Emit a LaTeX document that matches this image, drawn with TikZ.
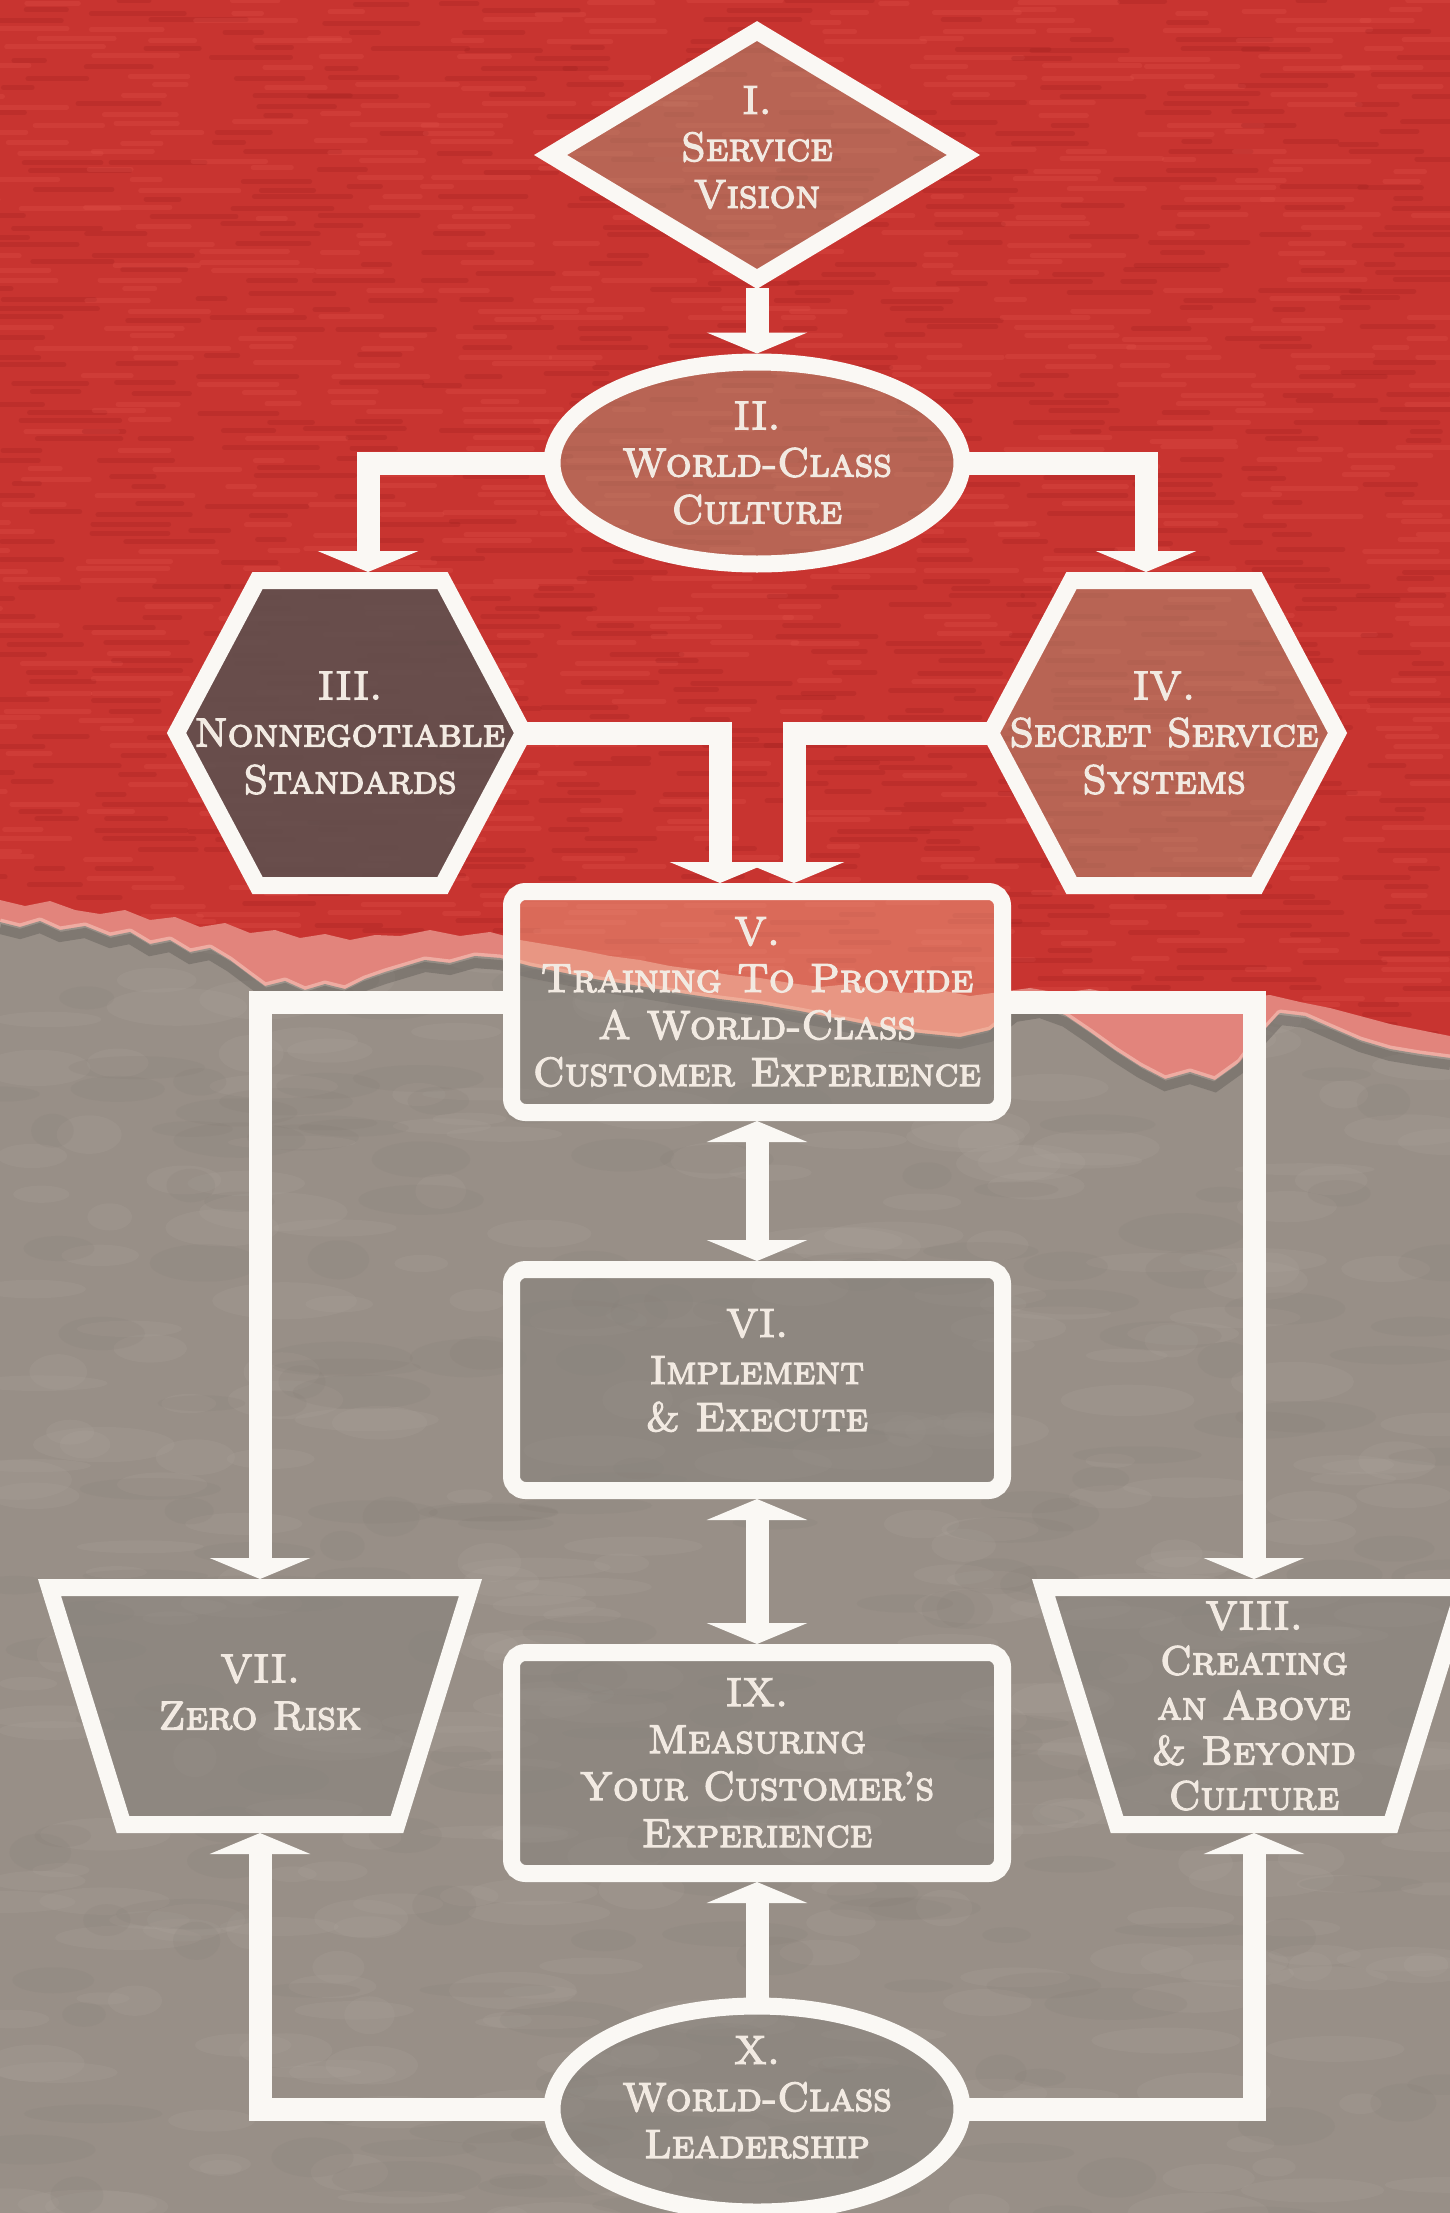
\documentclass[tikz,border=0pt]{standalone}
\usetikzlibrary{shapes.geometric,arrows.meta}

% paper colours
\definecolor{paperred}{RGB}{200,52,48}
\definecolor{streakdark}{RGB}{150,28,28}
\definecolor{streaklight}{RGB}{232,90,80}
\definecolor{tornpink}{RGB}{226,132,124}
\definecolor{fibre}{RGB}{242,182,172}
\definecolor{papergray}{RGB}{152,143,135}
\definecolor{mottlelight}{RGB}{178,170,162}
\definecolor{mottledark}{RGB}{128,120,113}
% diagram colours
\definecolor{linewhite}{RGB}{250,248,244}
\definecolor{labeltext}{RGB}{242,234,226}
\definecolor{tanfill}{RGB}{170,148,120}
\definecolor{darkfill}{RGB}{88,82,80}
\definecolor{grayfill}{RGB}{134,129,123}
\definecolor{salmonfill}{RGB}{240,172,140}

\pgfdeclarelayer{paper}
\pgfsetlayers{paper,main}

% heavier strokes for the label lettering
\newcommand\heavyon{\special{pdf:literal direct q 2 Tr 1.3 w}}
\newcommand\heavyoff{\special{pdf:literal direct Q}}

% lower edge of the red paper and of its torn fringe
\def\rededge{(0,900) -- (25,906) -- (50,901) -- (75,910) -- (100,914) -- (125,910) -- (150,920) -- (175,917) -- (200,927) -- (225,923) -- (250,933) -- (275,930) -- (300,938) -- (325,934) -- (350,940) -- (375,935) -- (400,936) -- (430,930) -- (460,936) -- (490,932) -- (520,940) -- (550,945) -- (580,950) -- (610,956) -- (640,960) -- (670,966) -- (700,970) -- (730,975) -- (760,978) -- (790,983) -- (820,987) -- (850,984) -- (880,990) -- (910,993) -- (940,990) -- (970,996) -- (1000,992) -- (1030,988) -- (1060,993) -- (1090,989) -- (1120,995) -- (1150,991) -- (1180,997) -- (1210,993) -- (1240,998) -- (1270,995) -- (1300,1002) -- (1330,1008) -- (1360,1016) -- (1390,1024) -- (1420,1030) -- (1450,1036)}
\def\fringeedge{(0,922) -- (20,927) -- (40,921) -- (60,930) -- (85,926) -- (110,936) -- (130,932) -- (150,944) -- (170,940) -- (190,952) -- (210,948) -- (230,960) -- (250,975) -- (265,986) -- (285,981) -- (305,990) -- (325,984) -- (345,989) -- (365,979) -- (385,972) -- (405,966) -- (425,960) -- (450,963) -- (475,956) -- (500,958) -- (530,966) -- (560,972) -- (600,980) -- (640,986) -- (680,993) -- (720,999) -- (760,1004) -- (800,1011) -- (840,1019) -- (880,1027) -- (920,1033) -- (960,1037) -- (990,1030) -- (1015,1010) -- (1040,1006) -- (1065,1015) -- (1090,1032) -- (1115,1050) -- (1140,1066) -- (1165,1079) -- (1190,1072) -- (1215,1080) -- (1240,1062) -- (1260,1035) -- (1280,1013) -- (1305,1016) -- (1330,1027) -- (1360,1040) -- (1390,1049) -- (1420,1054) -- (1450,1058)}

\begin{document}
\begin{tikzpicture}[x=1pt,y=-1pt,
  >={Triangle[width=100pt,length=21pt]},
  lbl/.style={text=labeltext, align=center, font=\fontsize{40.5pt}{47pt}\selectfont\scshape,
              execute at begin node=\heavyon, execute at end node=\heavyoff},
  whiteline/.style={draw=linewhite, line width=17pt},
  tanshape/.style={whiteline, fill=tanfill, fill opacity=0.5, text opacity=1, lbl, inner sep=0pt},
  roundbox/.style={whiteline, lbl, rectangle, rounded corners=14pt, inner sep=0pt,
                   minimum width=491pt, minimum height=221pt},
  grayroundbox/.style={roundbox, fill=grayfill, fill opacity=0.5, text opacity=1},
  boxframe/.style={lbl, inner sep=0pt, outer sep=0pt},
  hexframe/.style={boxframe, minimum width=347pt, minimum height=305pt},
  trapframe/.style={boxframe, minimum width=421pt, minimum height=237pt},
  link/.style={draw=linewhite, line width=23pt},
  linkarrow/.style={link, ->, shorten <=-3pt},
  linkboth/.style={link, <->}]

\useasboundingbox (0,0) rectangle (1450,2213);

% ---------- paper background ----------
\begin{pgfonlayer}{paper}
  \fill[paperred] (0,0) rectangle (1450,2213);
  \pgfmathsetseed{17}
  \foreach \r in {0,...,117}{
    \foreach \c in {0,...,12}{
      \pgfmathsetmacro\xa{\c*115 + rnd*80 - 40}
      \pgfmathsetmacro\ln{25 + rnd*75}
      \pgfmathsetmacro\ya{\r*9.3 + rnd*5}
      \pgfmathsetmacro\pick{rnd}
      \ifdim\pick pt<0.5pt \def\sc{streakdark}\else\def\sc{streaklight}\fi
      \draw[\sc, line width=5pt, line cap=round, opacity=0.22] (\xa,\ya) -- ++(\ln,0);
    }
  }
  \fill[tornpink] \rededge -- (1450,2213) -- (0,2213) -- cycle;
  \draw[fibre, line width=7pt, line join=round, opacity=0.8] \fringeedge;
  \fill[papergray] \fringeedge -- (1450,2213) -- (0,2213) -- cycle;
  \begin{scope}
    \clip \fringeedge -- (1450,2213) -- (0,2213) -- cycle;
    \foreach \i in {1,...,360}{
      \pgfmathsetmacro\mx{rnd*1450}
      \pgfmathsetmacro\my{900 + rnd*1330}
      \pgfmathsetmacro\mw{20 + rnd*55}
      \pgfmathsetmacro\mh{6 + rnd*14}
      \fill[mottlelight, opacity=0.16] (\mx,\my) ellipse [x radius=\mw, y radius=\mh];
    }
    \foreach \i in {1,...,220}{
      \pgfmathsetmacro\mx{rnd*1450}
      \pgfmathsetmacro\my{900 + rnd*1330}
      \pgfmathsetmacro\mw{20 + rnd*55}
      \pgfmathsetmacro\mh{6 + rnd*14}
      \fill[mottledark, opacity=0.13] (\mx,\my) ellipse [x radius=\mw, y radius=\mh];
    }
  \end{scope}
  \draw[black, opacity=0.16, line width=10pt, yshift=-7pt] \fringeedge;
\end{pgfonlayer}

% ---------- nodes ----------
\node[tanshape, diamond, aspect=1.65, minimum width=420pt, minimum height=255pt, text depth=16pt] (n1) at (757,155) {I.\\Service\\Vision};
\node[tanshape, ellipse, minimum width=410pt, minimum height=202pt] (n2) at (757,463) {II.\\World-Class\\Culture};
\node[hexframe] (n3) at (350,733) {III.\\Nonnegotiable\\Standards};
\node[hexframe] (n4) at (1164,733) {IV.\\Secret Service\\Systems};
\node[roundbox] (n5) at (757,1002) {V.\\Training To Provide\\A World-Class\\Customer Experience};
\node[grayroundbox, text depth=20pt] (n6) at (757,1380) {VI.\\Implement\\\& Execute};
\node[trapframe, text depth=28pt] (n7) at (260,1706) {VII.\\Zero Risk};
\node[trapframe, font=\fontsize{40.5pt}{45pt}\selectfont\scshape] (n8) at (1254,1706) {VIII.\\Creating\\an Above\\\& Beyond\\Culture};
\node[grayroundbox] (n9) at (757,1763) {IX.\\Measuring\\Your Customer’s\\Experience};
\node[tanshape, ellipse, fill=grayfill, minimum width=410pt, minimum height=202pt, text depth=24pt] (n10) at (757,2109) {X.\\World-Class\\Leadership};

% ---------- outlines drawn behind the labels ----------
\begin{pgfonlayer}{paper}
  \begin{scope}
    \clip[rounded corners=14pt] ([xshift=8.5pt,yshift=8.5pt]n5.south west) rectangle ([xshift=-8.5pt,yshift=-8.5pt]n5.north east);
    \fill[grayfill, opacity=0.5] \fringeedge -- (1450,2213) -- (0,2213) -- cycle;
    \fill[salmonfill, opacity=0.45] \fringeedge -- (1450,0) -- (0,0) -- cycle;
  \end{scope}
  \filldraw[whiteline, fill=darkfill, fill opacity=0.85]
    (n3.west) -- ([xshift=81pt]n3.north west) -- ([xshift=-81pt]n3.north east)
    -- (n3.east) -- ([xshift=-81pt]n3.south east) -- ([xshift=81pt]n3.south west) -- cycle;
  \filldraw[whiteline, fill=tanfill, fill opacity=0.5]
    (n4.west) -- ([xshift=81pt]n4.north west) -- ([xshift=-81pt]n4.north east)
    -- (n4.east) -- ([xshift=-81pt]n4.south east) -- ([xshift=81pt]n4.south west) -- cycle;
  \filldraw[whiteline, fill=grayfill, fill opacity=0.5]
    (n7.north west) -- (n7.north east) -- ([xshift=-73.5pt]n7.south east)
    -- ([xshift=73.5pt]n7.south west) -- cycle;
  \filldraw[whiteline, fill=grayfill, fill opacity=0.5]
    (n8.north west) -- (n8.north east) -- ([xshift=-73.5pt]n8.south east)
    -- ([xshift=73.5pt]n8.south west) -- cycle;
\end{pgfonlayer}

% ---------- connectors ----------
\draw[linkarrow] (n1.south) -- (n2.north);
\draw[linkarrow] (n2.west) -| ([xshift=18pt,yshift=8.5pt]n3.north);
\draw[linkarrow] (n2.east) -| ([xshift=-18pt,yshift=8.5pt]n4.north);
\draw[linkarrow] (n3.east) -| ([xshift=-37pt]n5.north);
\draw[linkarrow] (n4.west) -| ([xshift=37pt]n5.north);
\draw[linkarrow] (n5.west) -| ([yshift=8.5pt]n7.north);
\draw[linkarrow] (n5.east) -| ([yshift=8.5pt]n8.north);
\draw[linkboth] (n5.south) -- (n6.north);
\draw[linkboth] (n6.south) -- (n9.north);
\draw[linkarrow] (n10.north) -- (n9.south);
\draw[linkarrow] (n10.west) -| ([yshift=-8.5pt]n7.south);
\draw[linkarrow] (n10.east) -| ([yshift=-8.5pt]n8.south);
\end{tikzpicture}
\end{document}
